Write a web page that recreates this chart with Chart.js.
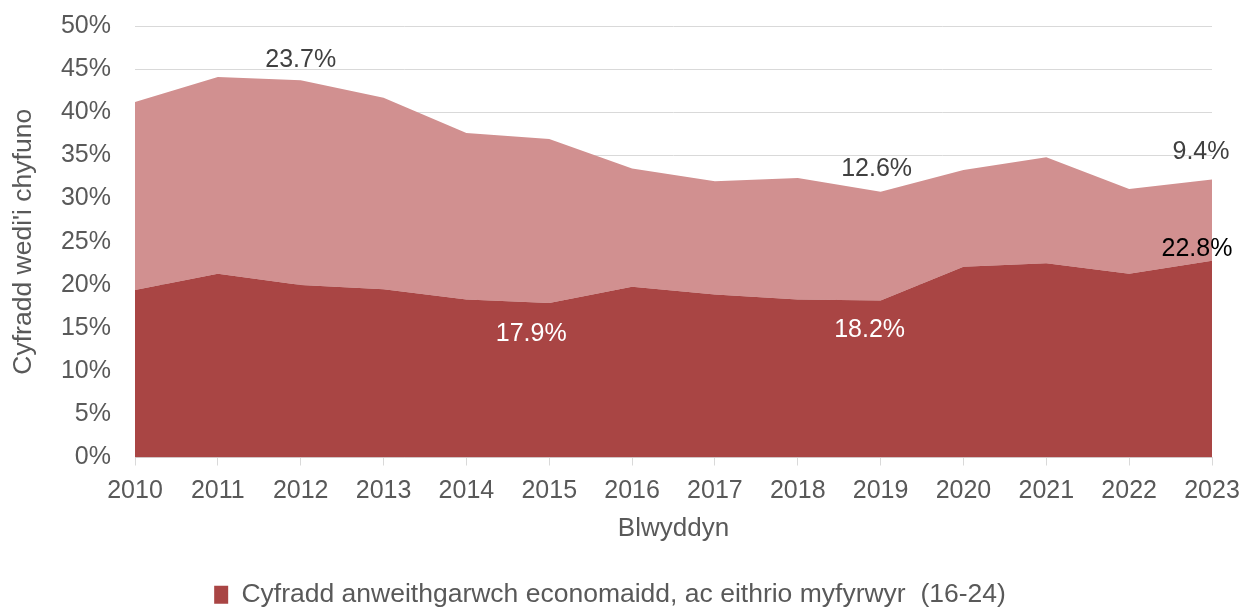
<!DOCTYPE html>
<html>
<head>
<meta charset="utf-8">
<script src="https://cdn.jsdelivr.net/npm/chart.js@4.4.1/dist/chart.umd.min.js"></script>
<style>
  html, body { margin: 0; padding: 0; background: #ffffff; }
  #wrap { width: 1245px; height: 608px; }
</style>
</head>
<body>
<div id="wrap"><canvas id="chart" width="1245" height="608"></canvas></div>
<script>
const years = ['2010', '2011', '2012', '2013', '2014', '2015', '2016', '2017', '2018', '2019', '2020', '2021', '2022', '2023'];
const exclStudents = [19.4, 21.3, 20.0, 19.5, 18.3, 17.9, 19.8, 18.9, 18.3, 18.2, 22.1, 22.5, 21.3, 22.8];
const students = [21.8, 22.8, 23.7, 22.2, 19.3, 19.0, 13.7, 13.1, 14.1, 12.6, 11.2, 12.3, 9.8, 9.4];
const yTicks = [0, 5, 10, 15, 20, 25, 30, 35, 40, 45, 50];

// which points get a value label
const exclLabels = [5, 9, 13];
const studentLabels = [2, 9, 13];

const FONT = '"Liberation Sans", Arial, sans-serif';
const GREY = '#595959';

Chart.defaults.font.family = FONT;
Chart.defaults.color = GREY;

// simple value labels, drawn next to the points
const valueLabels = {
  id: 'valueLabels',
  afterDatasetsDraw(chart) {
    const ctx = chart.ctx;
    ctx.save();
    ctx.font = '25px ' + FONT;
    ctx.textAlign = 'center';
    ctx.textBaseline = 'middle';
    chart.data.datasets.forEach((ds, di) => {
      const meta = chart.getDatasetMeta(di);
      (ds.labelAt || []).forEach((idx, k) => {
        const pt = meta.data[idx];
        const text = ds.data[idx].toFixed(1) + '%';
        const w = ctx.measureText(text).width;
        let x = pt.x + (ds.labelDx ? ds.labelDx[k] : 0);
        x = Math.min(x, chart.width - w / 2 - 2);
        ctx.fillStyle = ds.labelColor[k];
        ctx.fillText(text, x, pt.y + ds.labelDy[k]);
      });
    });
    ctx.restore();
  }
};

new Chart(document.getElementById('chart'), {
  type: 'line',
  data: {
    labels: years,
    datasets: [
      {
        label: 'Cyfradd anweithgarwch economaidd, ac eithrio myfyrwyr  (16-24)',
        data: exclStudents,
        backgroundColor: '#A94544',
        borderColor: '#A94544',
        borderWidth: 0,
        pointRadius: 0,
        fill: 'origin',
        tension: 0,
        labelAt: exclLabels,
        labelDy: [31, 30, -12],
        labelDx: [-18, -11, -15],
        labelColor: ['#ffffff', '#ffffff', '#000000']
      },
      {
        label: 'Myfyrwyr (16-24)',
        data: students,
        backgroundColor: '#D19090',
        borderColor: '#D19090',
        borderWidth: 0,
        pointRadius: 0,
        fill: '-1',
        tension: 0,
        labelAt: studentLabels,
        labelDy: [-20, -23, -28],
        labelDx: [0, -4, -11],
        labelColor: ['#404040', '#404040', '#404040']
      }
    ]
  },
  options: {
    responsive: false,
    animation: false,
    layout: { padding: { top: 26, right: 33, left: 8, bottom: -10 } },
    plugins: {
      legend: {
        position: 'bottom',
        labels: {
          color: GREY,
          font: { size: 26.5 },
          boxWidth: 14,
          boxHeight: 18,
          padding: 8,
          filter: item => item.datasetIndex === 0
        }
      },
      tooltip: { enabled: false }
    },
    scales: {
      x: {
        stacked: true,
        offset: false,
        grid: { display: true, drawOnChartArea: false, drawTicks: true, tickLength: 8, color: '#D9D9D9' },
        border: { display: true, color: '#D9D9D9' },
        ticks: { font: { size: 25 }, color: GREY, maxRotation: 0, autoSkip: false, padding: 11 },
        title: { display: true, text: 'Blwyddyn', font: { size: 26 }, color: GREY, padding: { top: 4, bottom: 29 } },
        afterFit: s => { s.height = 116; s.paddingLeft = 0; s.paddingRight = 0; }
      },
      y: {
        stacked: true,
        min: yTicks[0],
        max: yTicks[yTicks.length - 1],
        afterBuildTicks: s => { s.ticks = yTicks.map(v => ({ value: v })); },
        grid: { color: '#D9D9D9', drawTicks: false },
        border: { display: false },
        ticks: { font: { size: 25 }, color: GREY, padding: 24, callback: v => v + '%' },
        title: { display: true, text: "Cyfradd wedi'i chyfuno", font: { size: 26.5 }, color: GREY, padding: { top: 0, bottom: 6 } },
        afterFit: s => { s.width = 127; s.paddingTop = 0; s.paddingBottom = 0; }
      }
    }
  },
  plugins: [valueLabels]
});
</script>
</body>
</html>
